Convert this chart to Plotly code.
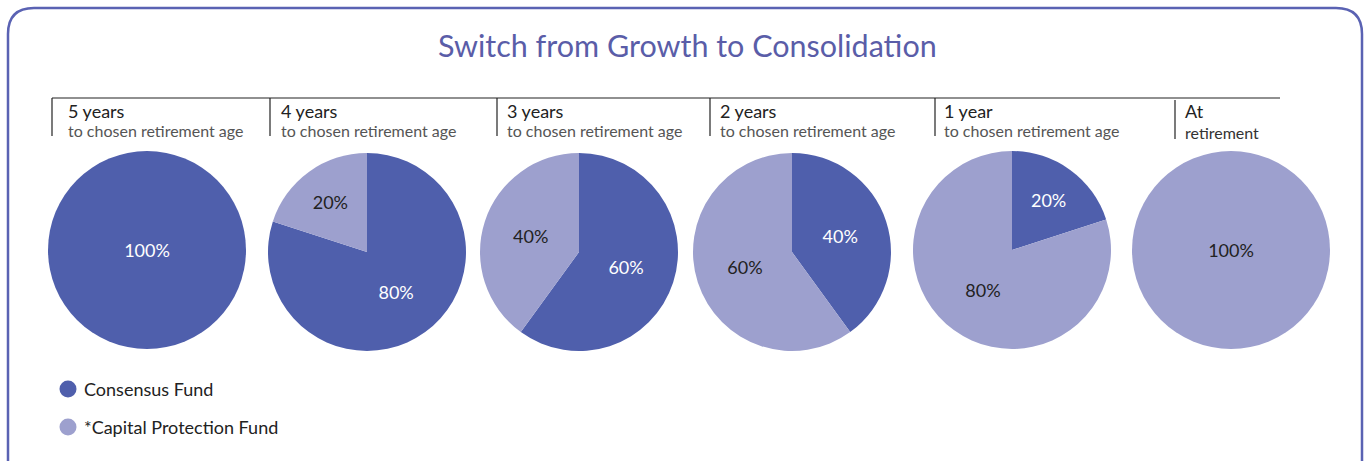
import plotly.graph_objects as go

# ---- data ----
stages_main = ["5 years", "4 years", "3 years", "2 years", "1 year", "At"]
stages_sub = ["to chosen retirement age"] * 5 + ["retirement"]
fund_names = ["Consensus Fund", "*Capital Protection Fund"]
consensus = [100, 80, 60, 40, 20, 0]
capital = [0, 20, 40, 60, 80, 100]
title_text = "Switch from Growth to Consolidation"

# ---- style ----
W, H = 1370, 461
DARK = "#4F5FAC"
LIGHT = "#9DA0CE"
TITLE_C = "#5A5DA8"
BORDER_C = "#5A62B3"
FONT = "Lato"

def X(px):
    return px / W

def Y(py):
    return 1 - py / H

centers_x = [147, 367, 579, 792, 1012, 1231]
centers_y = [250, 252, 252, 252, 250, 250]
R = 99

fig = go.Figure()
for i in range(6):
    vals = [consensus[i], capital[i]]
    texts = [f"{v}%" if v > 0 else "" for v in vals]
    cx, cy = centers_x[i], centers_y[i]
    fig.add_trace(go.Pie(
        labels=fund_names,
        values=vals,
        text=texts,
        textinfo="text",
        hoverinfo="label+percent",
        sort=False,
        direction="clockwise",
        rotation=0,
        marker=dict(colors=[DARK, LIGHT], line=dict(width=0)),
        textposition="inside",
        insidetextorientation="horizontal",
        insidetextfont=dict(family=FONT, size=18, color=["#FFFFFF", "#222222"]),
        domain=dict(x=[X(cx - R), X(cx + R)], y=[Y(cy + R), Y(cy - R)]),
        showlegend=False,
    ))

shapes = []
annotations = []

# rounded border
x0, x1, y0, rad = 8, 1362, 8, 26
yb = 470
path = (f"M {X(x0)},{Y(yb)} L {X(x0)},{Y(y0 + rad)} "
        f"Q {X(x0)},{Y(y0)} {X(x0 + rad)},{Y(y0)} "
        f"L {X(x1 - rad)},{Y(y0)} "
        f"Q {X(x1)},{Y(y0)} {X(x1)},{Y(y0 + rad)} "
        f"L {X(x1)},{Y(yb)}")
shapes.append(dict(type="path", xref="paper", yref="paper", path=path,
                   line=dict(color=BORDER_C, width=2.5)))

# header line
shapes.append(dict(type="line", xref="paper", yref="paper",
                   x0=X(52), x1=X(1280), y0=Y(98), y1=Y(98),
                   line=dict(color="#222222", width=1.2)))
sep_x = [52, 270, 497, 710, 935, 1175]
text_x = [67, 280, 506, 719, 943, 1184]
for i in range(6):
    top = 98 if i < 5 else 100
    bot = 136 if i < 5 else 139
    shapes.append(dict(type="line", xref="paper", yref="paper",
                       x0=X(sep_x[i]), x1=X(sep_x[i]), y0=Y(top), y1=Y(bot),
                       line=dict(color="#222222", width=1.2)))
    annotations.append(dict(x=X(text_x[i] - 1), y=Y(111), xref="paper", yref="paper",
                            text=stages_main[i], showarrow=False, xanchor="left",
                            yanchor="middle",
                            font=dict(family=FONT, size=18, color="#222222")))
    sub_y = 130 if i < 5 else 132
    sub_c = "#555555" if i < 5 else "#333333"
    annotations.append(dict(x=X(text_x[i] - 1), y=Y(sub_y), xref="paper", yref="paper",
                            text=stages_sub[i], showarrow=False, xanchor="left",
                            yanchor="middle",
                            font=dict(family=FONT, size=16, color=sub_c)))

# title
annotations.append(dict(x=X(687), y=Y(45), xref="paper", yref="paper",
                        text=title_text, showarrow=False, xanchor="center",
                        yanchor="middle",
                        font=dict(family=FONT, size=30.5, color=TITLE_C)))

# legend
leg_y = [389, 427]
leg_c = [DARK, LIGHT]
for j in range(2):
    cx, cy, r = 68, leg_y[j], 8.5
    shapes.append(dict(type="circle", xref="paper", yref="paper",
                       x0=X(cx - r), x1=X(cx + r), y0=Y(cy + r), y1=Y(cy - r),
                       fillcolor=leg_c[j], line=dict(width=0)))
    annotations.append(dict(x=X(82), y=Y(cy), xref="paper", yref="paper",
                            text=fund_names[j], showarrow=False, xanchor="left",
                            yanchor="middle",
                            font=dict(family=FONT, size=18, color="#222222")))

fig.update_layout(
    width=W, height=H,
    margin=dict(l=0, r=0, t=0, b=0),
    paper_bgcolor="white",
    plot_bgcolor="white",
    shapes=shapes,
    annotations=annotations,
    showlegend=False,
)

fig.write_html("out.html")
